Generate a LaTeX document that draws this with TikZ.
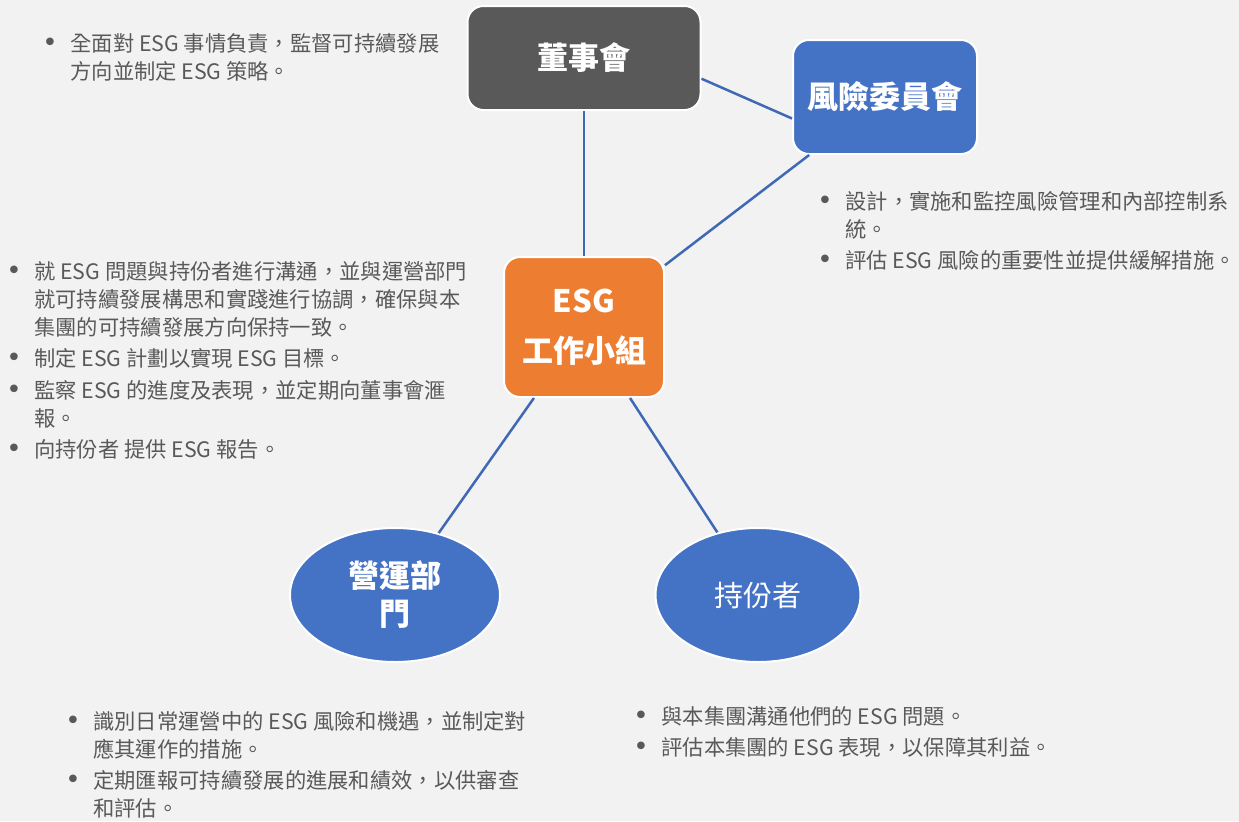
\documentclass[tikz,border=0pt]{standalone}
\usepackage{fontspec}
\setmainfont{Noto Sans CJK TC}
\newfontfamily\dejavu{DejaVu Sans}
\usepackage{xcolor}
\usepackage{tikz}
\usetikzlibrary{shapes.geometric}

\definecolor{bggray}{HTML}{F2F2F2}
\definecolor{boardgray}{HTML}{595959}
\definecolor{riskblue}{HTML}{4472C4}
\definecolor{esgorange}{HTML}{ED7D31}
\definecolor{linkblue}{HTML}{4069B5}
\definecolor{txtgray}{HTML}{595959}

\newcommand{\bul}{\makebox[14pt][l]{\dejavu\fontsize{13}{13}\selectfont\char"2022}}

\begin{document}
\begin{tikzpicture}[x=0.5pt, y=-0.5pt,
    title/.style={text=white, font=\bfseries\fontsize{15.5}{19}\selectfont, align=center,
        draw=white, line width=1pt, inner sep=0pt},
    box/.style={title, rounded corners=8pt},
    oval/.style={title, ellipse, fill=riskblue, minimum width=105pt, minimum height=67pt},
    link/.style={draw=linkblue, line width=1.25pt},
    notes/.style={anchor=base west, inner sep=0pt, text=txtgray,
        font=\fontsize{10.65}{14}\selectfont}]

    % Background
    \fill[bggray] (0,0) rectangle (1239,821);
    \useasboundingbox (0,0) rectangle (1239,821);

    % Boxes
    \node[box, fill=boardgray, minimum width=116.5pt, minimum height=52pt] (board) at (584,58) {董事會};
    \node[box, fill=riskblue, minimum width=92pt, minimum height=57pt] (risk) at (885,97) {風險委員會};
    \node[box, fill=esgorange, minimum width=80pt, minimum height=70pt,
        font=\bfseries\fontsize{15.5}{25}\selectfont] (esg) at (584,327) {ESG\\工作小組};
    \node[oval] (ops) at (395,595) {營運部\\門};
    \node[oval, minimum width=102.5pt, font=\fontsize{14.5}{19}\selectfont] (holders) at (758,595) {持份者};

    % Links
    \draw[link] (board) -- (esg);
    \draw[link] (board.-10.6) -- (risk.-167.7);
    \draw[link] (risk) -- (esg);
    \draw[link] (esg) -- (ops);
    \draw[link] (esg) -- (holders);

    % Notes
    \node[notes] (boardnote) at (42,51) {\begin{tabular}[t]{@{}l@{}l@{}}
        \bul & 全面對 ESG 事情負責，監督可持續發展\\
        & 方向並制定 ESG 策略。
    \end{tabular}};
    \node[notes] (risknote) at (817,209) {\begin{tabular}[t]{@{}l@{}l@{}}
        \bul & 設計，實施和監控風險管理和內部控制系\\
        & 統。\\[1.75pt]
        \bul & 評估 ESG 風險的重要性並提供緩解措施。
    \end{tabular}};
    \node[notes] (esgnote) at (6,279) {\begin{tabular}[t]{@{}l@{}l@{}}
        \bul & 就 ESG 問題與持份者進行溝通，並與運營部門\\
        & 就可持續發展構思和實踐進行協調，確保與本\\
        & 集團的可持續發展方向保持一致。\\[1.75pt]
        \bul & 制定 ESG 計劃以實現 ESG 目標。\\[1.75pt]
        \bul & 監察 ESG 的進度及表現，並定期向董事會滙\\
        & 報。\\[1.75pt]
        \bul & 向持份者 提供 ESG 報告。
    \end{tabular}};
    \node[notes] (opsnote) at (65,729) {\begin{tabular}[t]{@{}l@{}l@{}}
        \bul & 識別日常運營中的 ESG 風險和機遇，並制定對\\
        & 應其運作的措施。\\[1.75pt]
        \bul & 定期匯報可持續發展的進展和績效，以供審查\\
        & 和評估。
    \end{tabular}};
    \node[notes] (holdersnote) at (633,724) {\begin{tabular}[t]{@{}l@{}l@{}}
        \bul & 與本集團溝通他們的 ESG 問題。\\[1.75pt]
        \bul & 評估本集團的 ESG 表現，以保障其利益。
    \end{tabular}};
\end{tikzpicture}
\end{document}
